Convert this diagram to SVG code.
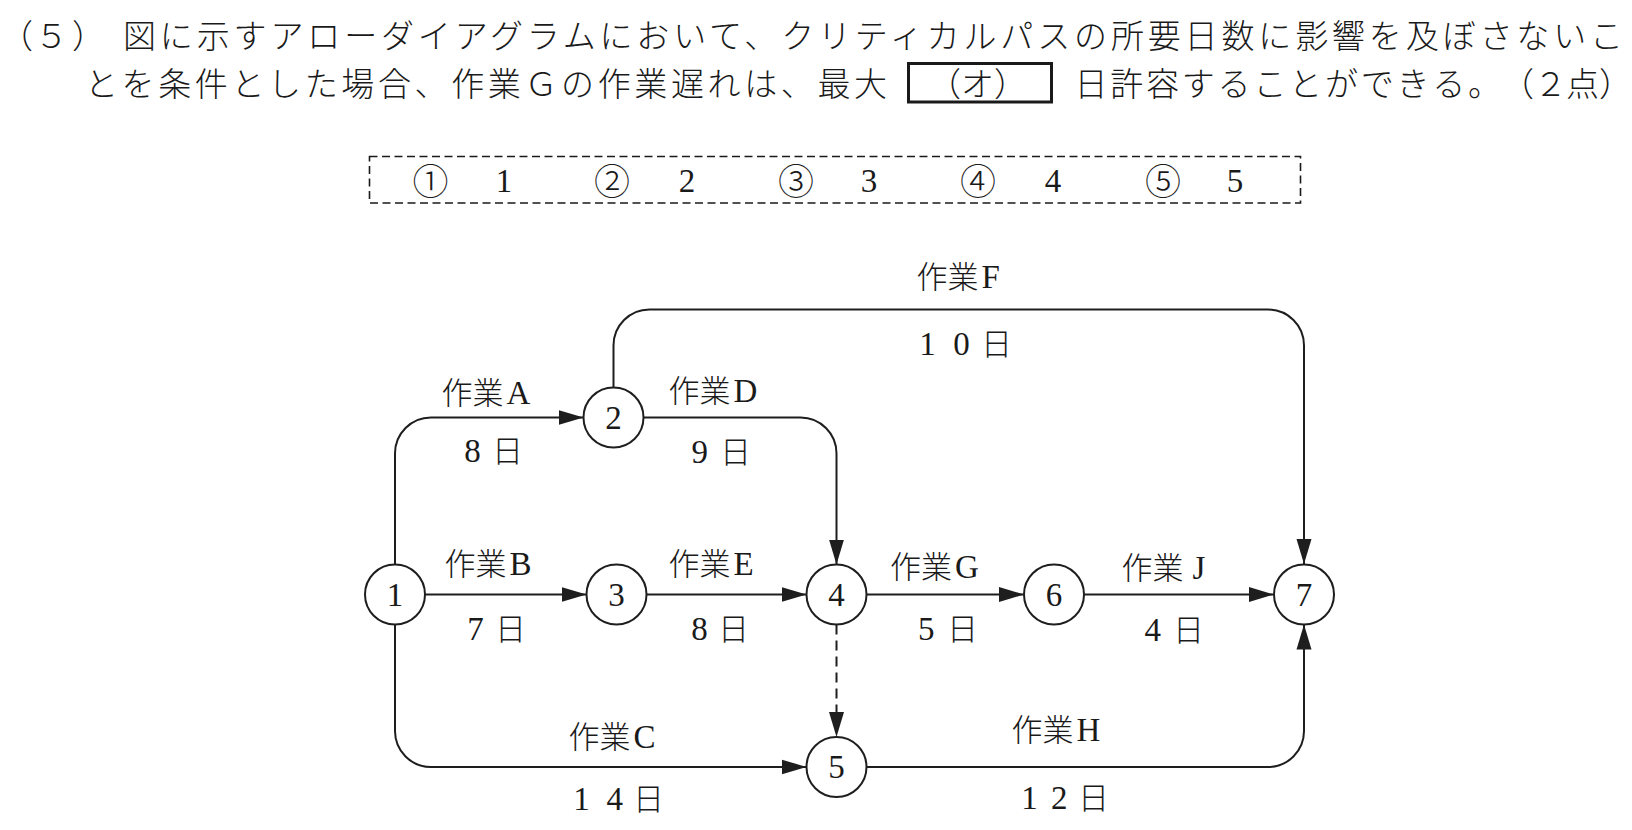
<svg xmlns="http://www.w3.org/2000/svg" width="1632" height="830" viewBox="0 0 1632 830">
<style>
.t{font-family:"Noto Sans CJK JP","Liberation Serif",sans-serif;font-size:33px;font-weight:300;fill:#1a1a1a}
.l{font-family:"Liberation Serif","Noto Sans CJK JP",serif;font-size:31px;font-weight:300;fill:#1a1a1a}
.lt{font-family:"Liberation Serif",serif;font-size:33px;font-weight:400}
.n{font-family:"Liberation Serif",serif;font-size:33px;fill:#1a1a1a;text-anchor:middle}
.c{font-family:"Noto Sans CJK JP",sans-serif;font-size:36px;font-weight:300;fill:#1a1a1a;text-anchor:middle}
.e{fill:none;stroke:#1e1e1e;stroke-width:2}
.node circle{fill:#fff;stroke:#1e1e1e;stroke-width:2}
</style>
<defs>
<marker id="ah" markerUnits="userSpaceOnUse" markerWidth="26" markerHeight="16" refX="25" refY="8" orient="auto" viewBox="0 0 26 16">
<path d="M0,0.5 L25,8 L0,15.5 z" fill="#1e1e1e"/>
</marker>
</defs>
<rect width="1632" height="830" fill="#fff"/>

<g id="question">
<text class="t" y="47.5" x="0 35 72">（５）</text>
<text class="t" x="123" y="47.5" textLength="1500" lengthAdjust="spacing">図に示すアローダイアグラムにおいて、クリティカルパスの所要日数に影響を及ぼさないこ</text>
<text class="t" x="85" y="96" textLength="802" lengthAdjust="spacing">とを条件とした場合、作業Ｇの作業遅れは、最大</text>
<rect x="908.5" y="63.5" width="143" height="38.5" fill="none" stroke="#1a1a1a" stroke-width="3"/>
<text class="t" x="928" y="96">（オ）</text>
<text class="t" y="96" x="1074.5 1110.3 1146 1181.8 1217.6 1253.4 1289.1 1324.9 1360.7 1396.4 1432.2 1468 1501 1534 1566 1599">日許容することができる。（２点）</text>
</g>

<g id="choices">
<rect x="369.5" y="156.5" width="931" height="46.5" fill="none" stroke="#1a1a1a" stroke-width="1.6" stroke-dasharray="8 4.5"/>
<text class="c" x="430.5" y="194.5">①</text><text class="n" x="504" y="191.5">1</text>
<text class="c" x="612" y="194.5">②</text><text class="n" x="687" y="191.5">2</text>
<text class="c" x="796" y="194.5">③</text><text class="n" x="869" y="191.5">3</text>
<text class="c" x="978" y="194.5">④</text><text class="n" x="1053" y="191.5">4</text>
<text class="c" x="1163" y="194.5">⑤</text><text class="n" x="1235" y="191.5">5</text>
</g>

<g id="connectors">
<path id="eA" class="e" d="M395,564.5 V453.5 A36,36 0 0 1 431,417.5 H583.5" marker-end="url(#ah)"/>
<path id="eB" class="e" d="M425,594.5 H586.5" marker-end="url(#ah)"/>
<path id="eC" class="e" d="M395,624.5 V731 A36,36 0 0 0 431,767 H806.5" marker-end="url(#ah)"/>
<path id="eD" class="e" d="M643.5,417.5 H800.5 A36,36 0 0 1 836.5,453.5 V564.5" marker-end="url(#ah)"/>
<path id="eE" class="e" d="M646.5,594.5 H806.5" marker-end="url(#ah)"/>
<path id="eF" class="e" d="M613.5,387.5 V345.5 A36,36 0 0 1 649.5,309.5 H1268 A36,36 0 0 1 1304,345.5 V564" marker-end="url(#ah)"/>
<path id="eG" class="e" d="M866.5,594.5 H1024" marker-end="url(#ah)"/>
<path id="eJ" class="e" d="M1084,594.5 H1274" marker-end="url(#ah)"/>
<path id="eH" class="e" d="M866.5,767 H1268 A36,36 0 0 0 1304,731 V624.5" marker-end="url(#ah)"/>
<path id="eDummy" class="e" d="M836.5,624.5 V737" stroke-dasharray="10 6" marker-end="url(#ah)"/>
</g>

<g id="edge-labels">
<text class="l" x="916.5" y="287.5">作業<tspan class="lt" dx="3">F</tspan></text>
<text class="l" y="355"><tspan class="lt" x="919.3">1</tspan><tspan class="lt" x="953.2">0</tspan><tspan x="981">日</tspan></text>
<text class="l" x="441.5" y="403.5">作業<tspan class="lt" dx="3">A</tspan></text>
<text class="l" y="461.5"><tspan class="lt" x="464.2">8</tspan><tspan x="492">日</tspan></text>
<text class="l" x="668.5" y="401.5">作業<tspan class="lt" dx="3">D</tspan></text>
<text class="l" y="462.5"><tspan class="lt" x="691.6">9</tspan><tspan x="720">日</tspan></text>
<text class="l" x="444.5" y="574.5">作業<tspan class="lt" dx="3">B</tspan></text>
<text class="l" y="639.5"><tspan class="lt" x="467.3">7</tspan><tspan x="495">日</tspan></text>
<text class="l" x="668.5" y="574.5">作業<tspan class="lt" dx="3">E</tspan></text>
<text class="l" y="639.5"><tspan class="lt" x="691.2">8</tspan><tspan x="718">日</tspan></text>
<text class="l" x="568.5" y="747.5">作業<tspan class="lt" dx="3">C</tspan></text>
<text class="l" y="809.5"><tspan class="lt" x="573.3">1</tspan><tspan class="lt" x="606.6">4</tspan><tspan x="633">日</tspan></text>
<text class="l" x="890" y="577.5">作業<tspan class="lt" dx="3">G</tspan></text>
<text class="l" y="639.5"><tspan class="lt" x="918">5</tspan><tspan x="947">日</tspan></text>
<text class="l" x="1121.5" y="578.5">作業<tspan class="lt" dx="9">J</tspan></text>
<text class="l" y="640.5"><tspan class="lt" x="1144.6">4</tspan><tspan x="1173">日</tspan></text>
<text class="l" x="1011.5" y="740.5">作業<tspan class="lt" dx="3">H</tspan></text>
<text class="l" y="808.5"><tspan class="lt" x="1021.3">1</tspan><tspan class="lt" x="1051">2</tspan><tspan x="1078">日</tspan></text>
</g>

<g id="node1" class="node"><circle cx="395" cy="594.5" r="30"/><text class="n" x="395" y="605.5">1</text></g>
<g id="node2" class="node"><circle cx="613.5" cy="417.5" r="30"/><text class="n" x="613.5" y="428.5">2</text></g>
<g id="node3" class="node"><circle cx="616.5" cy="594.5" r="30"/><text class="n" x="616.5" y="605.5">3</text></g>
<g id="node4" class="node"><circle cx="836.5" cy="594.5" r="30"/><text class="n" x="836.5" y="605.5">4</text></g>
<g id="node5" class="node"><circle cx="836.5" cy="767" r="30"/><text class="n" x="836.5" y="778">5</text></g>
<g id="node6" class="node"><circle cx="1054" cy="594.5" r="30"/><text class="n" x="1054" y="605.5">6</text></g>
<g id="node7" class="node"><circle cx="1304" cy="594.5" r="30"/><text class="n" x="1304" y="605.5">7</text></g>
</svg>
